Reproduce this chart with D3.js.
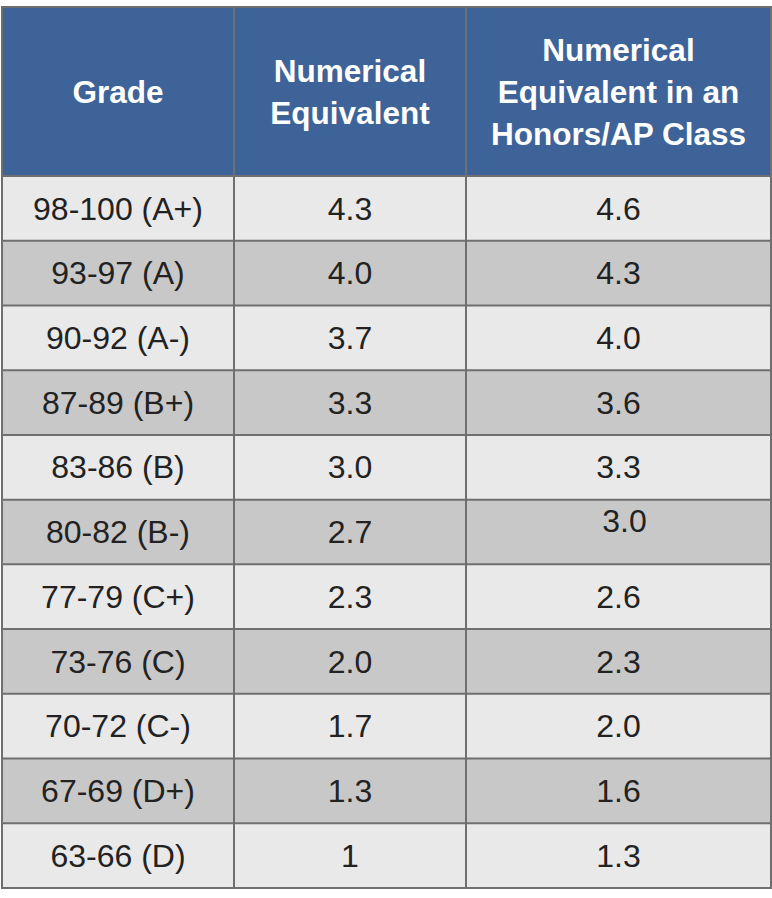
<!DOCTYPE html>
<html>
<head>
<meta charset="utf-8">
<script src="https://cdn.jsdelivr.net/npm/d3@7"></script>
<style>
  body { margin: 0; background: #fff; }
</style>
</head>
<body>
<div id="chart"></div>
<script>
// Data
const headers = [
  ['Grade'],
  ['Numerical', 'Equivalent'],
  ['Numerical', 'Equivalent in an', 'Honors/AP Class']
];
const grades = ['98-100 (A+)', '93-97 (A)', '90-92 (A-)', '87-89 (B+)', '83-86 (B)', '80-82 (B-)',
  '77-79 (C+)', '73-76 (C)', '70-72 (C-)', '67-69 (D+)', '63-66 (D)'];
const regular = ['4.3', '4.0', '3.7', '3.3', '3.0', '2.7', '2.3', '2.0', '1.7', '1.3', '1'];
const honors = ['4.6', '4.3', '4.0', '3.6', '3.3', '3.0', '2.6', '2.3', '2.0', '1.6', '1.3'];

function draw() {
  const width = 772;
  const height = 898;
  const top = 7;
  const headerBottom = 176;
  const bottom = 888;
  const colEdges = [2, 234, 466, 771];

  const svg = d3.select('#chart')
    .append('svg')
    .attr('width', width)
    .attr('height', height)
    .style('font-family', 'Liberation Sans, Arial, sans-serif')

  // Scales
  const yScale = d3.scaleBand()
    .domain(d3.range(grades.length))
    .range([headerBottom, bottom])

  const xScale = d3.scaleOrdinal()
    .domain([0, 1, 2])
    .range(colEdges.slice(0, 3))
  const colWidth = i => colEdges[i + 1] - colEdges[i]

  // Header
  svg.append('rect')
    .attr('x', colEdges[0])
    .attr('y', top)
    .attr('width', colEdges[3] - colEdges[0])
    .attr('height', headerBottom - top)
    .attr('fill', '#3e6399')

  const lineH = 42
  headers.forEach((lines, i) => {
    const cx = xScale(i) + colWidth(i) / 2
    const cy = (top + headerBottom) / 2
    const t = svg.append('text')
      .attr('text-anchor', 'middle')
      .attr('fill', '#fff')
      .attr('font-weight', 'bold')
      .attr('font-size', '31.5px')
    lines.forEach((l, j) => {
      t.append('tspan')
        .attr('x', cx)
        .attr('y', cy + (j - (lines.length - 1) / 2) * lineH)
        .attr('dy', '0.35em')
        .text(l)
    })
  })

  // Rows
  const rows = svg.selectAll('g.row')
    .data(grades.map((g, i) => ({ i, cells: [g, regular[i], honors[i]] })))
    .join('g')
    .attr('class', 'row')

  rows.append('rect')
    .attr('x', colEdges[0])
    .attr('y', d => yScale(d.i))
    .attr('width', colEdges[3] - colEdges[0])
    .attr('height', yScale.bandwidth())
    .attr('fill', d => d.i % 2 === 0 ? '#e9e9e9' : '#c8c8c8')

  // the 3.0 honors cell sits a little up and right in the original
  rows.selectAll('text')
    .data(d => d.cells.map((c, k) => ({ row: d.i, col: k, text: c })))
    .join('text')
    .attr('x', d => xScale(d.col) + colWidth(d.col) / 2 + (d.row === 5 && d.col === 2 ? 6 : 0))
    .attr('y', d => yScale(d.row) + yScale.bandwidth() / 2 + (d.row === 5 && d.col === 2 ? -11 : 0))
    .attr('dy', '0.35em')
    .attr('text-anchor', 'middle')
    .attr('font-size', '32px')
    .attr('fill', '#222')
    .text(d => d.text)

  // Grid lines
  const stroke = '#6f6f6f'
  const hLines = [top, headerBottom, ...d3.range(1, grades.length).map(i => yScale(i)), bottom]
  svg.selectAll('line.h')
    .data(hLines)
    .join('line')
    .attr('class', 'h')
    .attr('x1', colEdges[0] - 1)
    .attr('x2', colEdges[3] + 1)
    .attr('y1', d => d)
    .attr('y2', d => d)
    .attr('stroke', stroke)
    .attr('stroke-width', 2)

  svg.selectAll('line.v')
    .data(colEdges)
    .join('line')
    .attr('class', 'v')
    .attr('x1', d => d)
    .attr('x2', d => d)
    .attr('y1', top)
    .attr('y2', bottom)
    .attr('stroke', stroke)
    .attr('stroke-width', 2)
}

draw()
</script>
</body>
</html>
